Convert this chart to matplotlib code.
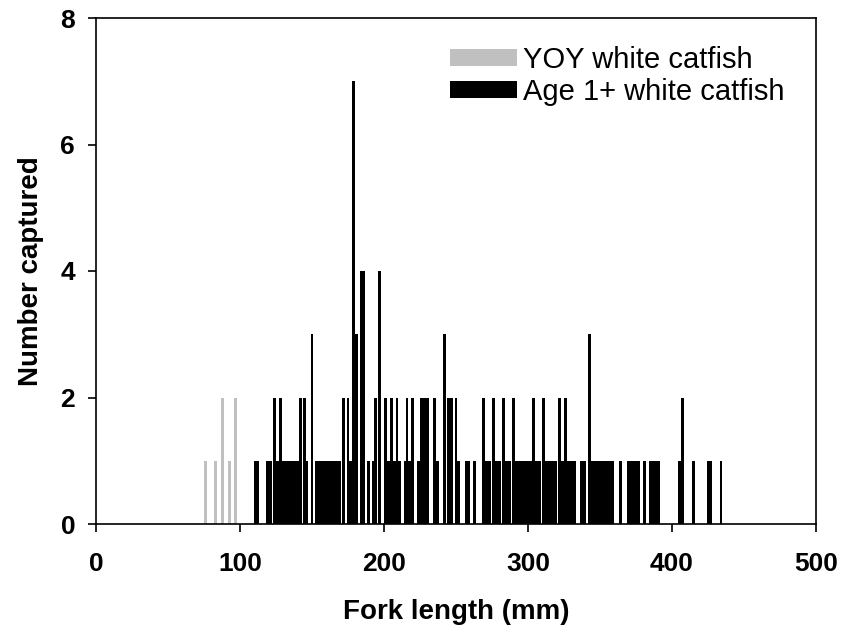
import matplotlib
matplotlib.use("Agg")
import matplotlib.pyplot as plt

plt.rcParams['font.family'] = ['Liberation Sans', 'DejaVu Sans']

# YOY white catfish: fork length (mm) and number captured
yoy_length = [76, 83, 88, 93, 97]
yoy_count = [1, 1, 2, 1, 2]

# Age 1+ white catfish: fork length (mm) and number captured
age1_length = [111, 112,
               119, 121, 124, 126, 128, 130, 132, 134,
               136, 138, 140, 142, 145, 146,
               150,
               153, 155, 157, 159, 161, 163, 165, 167, 169, 172, 175, 177,
               179, 181, 184, 186, 189,
               193, 194, 197,
               201, 203, 205, 207, 209, 211, 215, 216, 218, 220,
               224, 226, 228, 230, 235, 237, 242, 245, 247, 250, 252,
               257, 259, 263,
               269, 271, 273, 276, 278, 280, 283, 285, 287, 290, 292, 294,
               296, 298, 300, 302, 304, 306, 308, 311, 313, 315, 317, 319,
               322, 324, 326, 328, 330, 332, 337, 339,
               343, 345, 347, 349, 351, 353, 355, 357, 359,
               364, 370, 372, 374, 376, 377, 381, 385, 387, 389, 391,
               405, 407, 415, 425, 427, 434]
age1_count = [1, 1,
              1, 1, 2, 1, 2, 1, 1, 1,
              1, 1, 1, 2, 2, 1,
              3,
              1, 1, 1, 1, 1, 1, 1, 1, 1, 2, 2, 1,
              7, 3, 4, 4, 1,
              1, 2, 4,
              2, 1, 2, 1, 2, 1, 1, 2, 1, 2,
              1, 2, 2, 2, 2, 1, 3, 2, 2, 2, 1,
              1, 1, 1,
              2, 1, 1, 2, 1, 1, 2, 1, 1, 2, 1, 1,
              1, 1, 1, 1, 2, 1, 1, 2, 1, 1, 1, 1,
              2, 1, 2, 1, 1, 1, 1, 1,
              3, 1, 1, 1, 1, 1, 1, 1, 1,
              1, 1, 1, 1, 1, 1, 1, 1, 1, 1, 1,
              1, 2, 1, 1, 1, 1]

x_ticks = [0, 100, 200, 300, 400, 500]
y_ticks = [0, 2, 4, 6, 8]

fig = plt.figure(figsize=(8.44, 6.33), dpi=100)
ax = fig.add_axes([96/844, 1-524/633, 720/844, 506/633])

ax.bar(yoy_length, yoy_count, width=2.0, color='#c0c0c0', linewidth=0,
       label='YOY white catfish')
ax.bar(age1_length, age1_count, width=2.0, color='black', linewidth=0,
       label='Age 1+ white catfish')

ax.set_xlim(0, 500)
ax.set_ylim(0, 8)
ax.set_xticks(x_ticks)
ax.set_yticks(y_ticks)
ax.tick_params(direction='out', length=6, width=1.2, labelsize=19)
ax.tick_params(axis='x', pad=14)
ax.tick_params(axis='y', pad=9)
for lab in ax.get_xticklabels() + ax.get_yticklabels():
    lab.set_fontweight('bold')
for s in ax.spines.values():
    s.set_linewidth(1.2)

ax.set_xlabel('Fork length (mm)', fontsize=20, fontweight='bold', labelpad=17)
ax.set_ylabel('Number captured', fontsize=20, fontweight='bold', labelpad=12)

leg = ax.legend(loc='upper right', bbox_to_anchor=(0.98, 0.98), frameon=False,
                fontsize=21, handlelength=2.3, handleheight=0.5,
                labelspacing=0.15, handletextpad=0.2, borderaxespad=0.2)

fig.savefig('out.png', dpi=100)
